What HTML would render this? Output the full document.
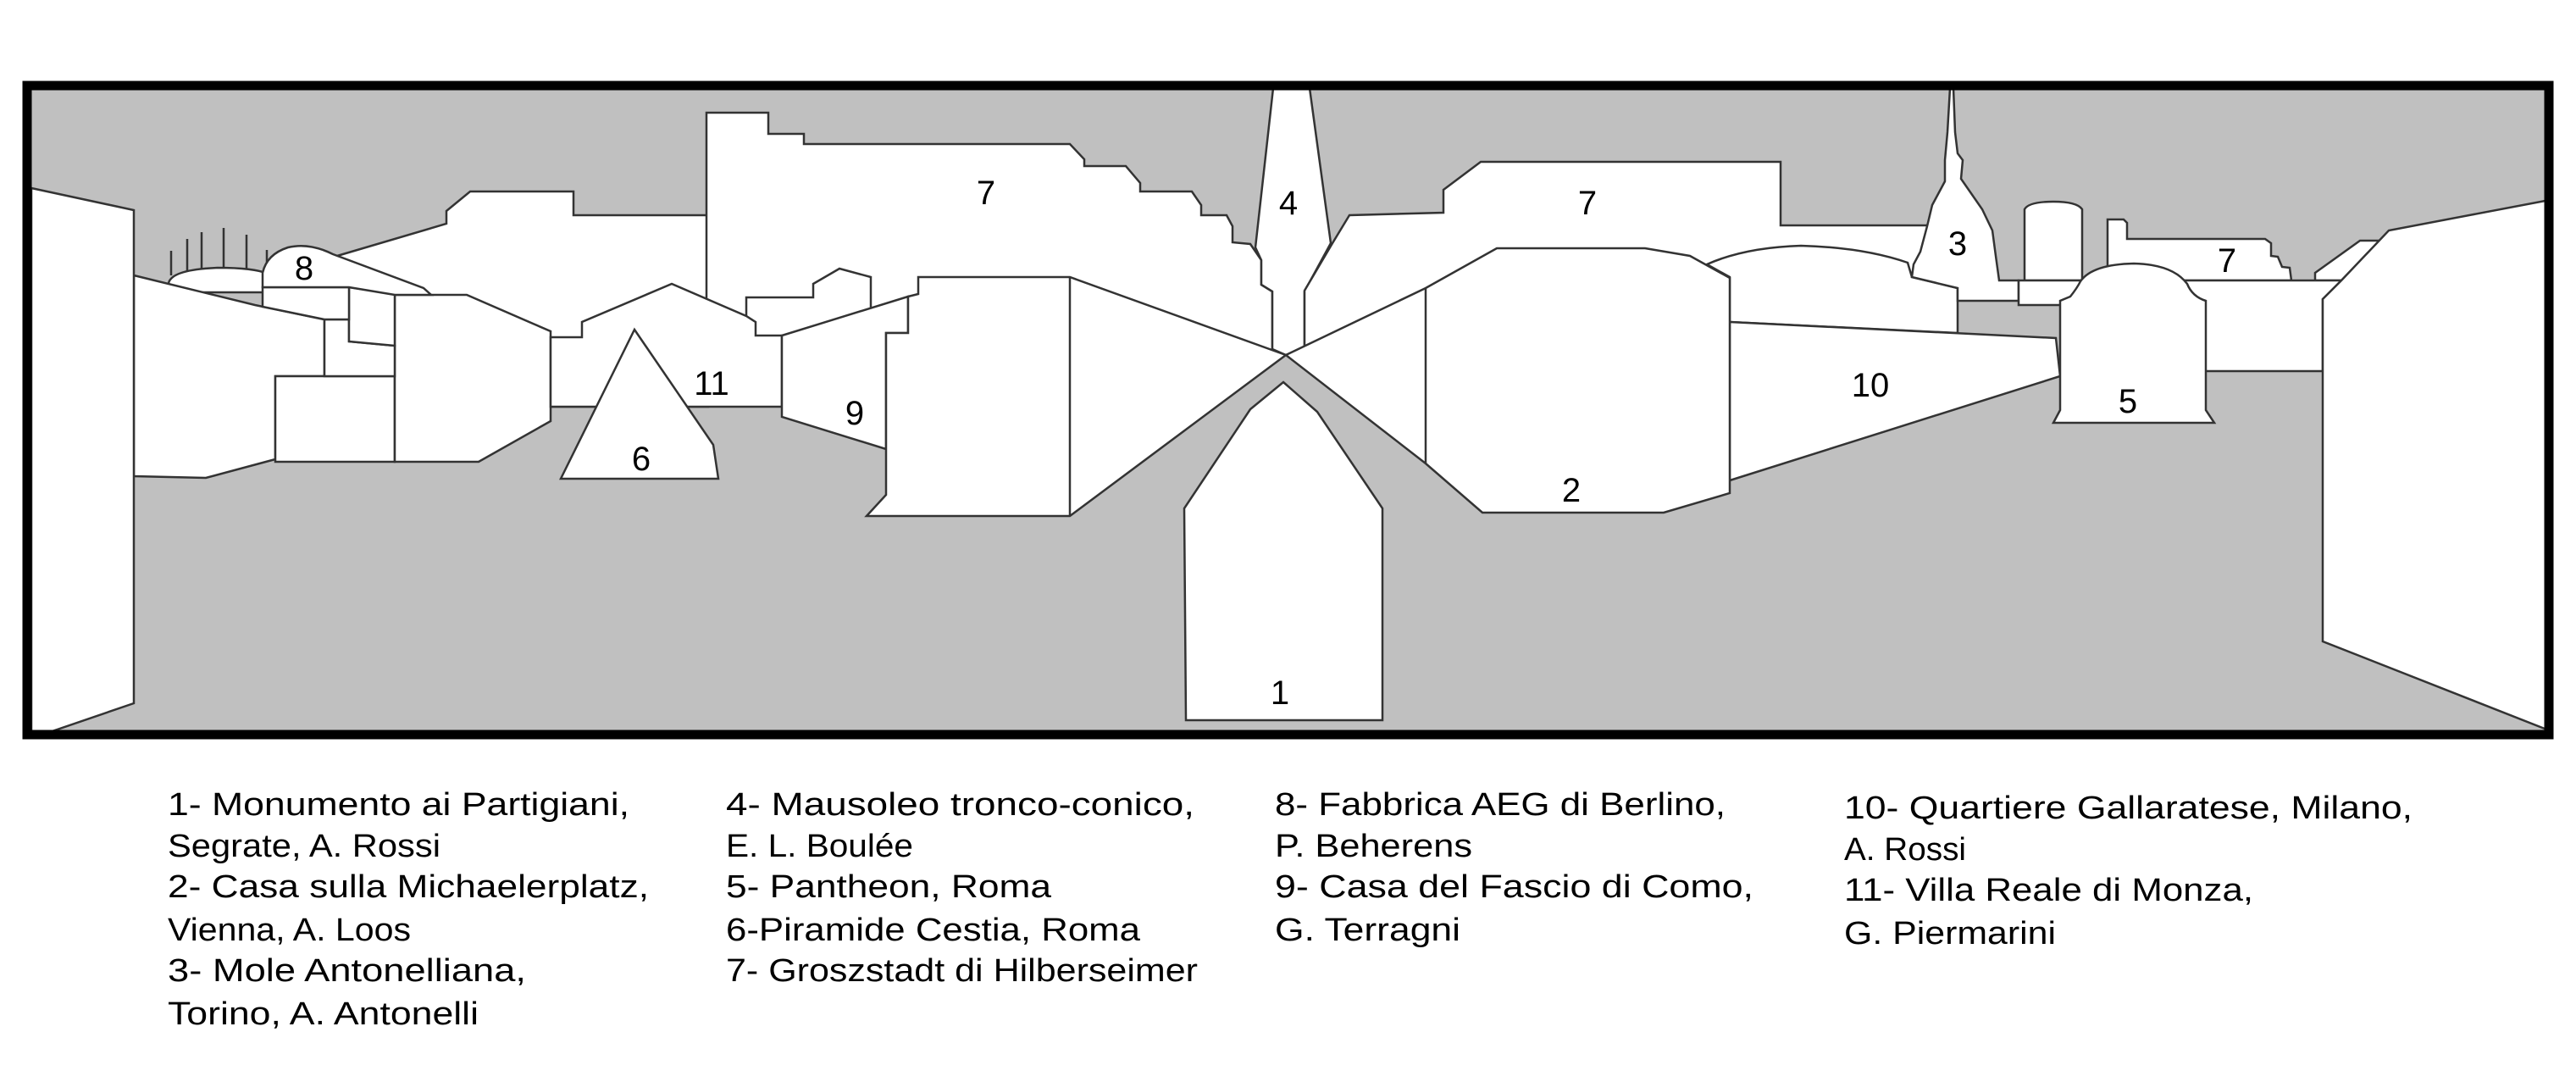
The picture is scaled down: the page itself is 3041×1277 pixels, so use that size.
<!DOCTYPE html>
<html><head><meta charset="utf-8"><style>
html,body{margin:0;padding:0;background:#fff;}
svg{display:block;}
.s{fill:#fff;stroke:#333;stroke-width:2.5;stroke-linejoin:miter;}
.l{fill:none;stroke:#333;stroke-width:2.5;}
.n{font-family:"Liberation Sans",sans-serif;font-size:40px;fill:#000;text-anchor:middle;}
.t{font-family:"Liberation Sans",sans-serif;font-size:38px;fill:#000;}
</style></head><body>
<svg width="3041" height="1277" viewBox="0 0 3041 1277" xmlns="http://www.w3.org/2000/svg">
<rect x="32" y="101" width="2977" height="766" fill="#c0c0c0"/>
<!-- back buildings -->
<polygon class="s" points="398,302 527,264 527,249 555,226 677,226 677,254 836,254 836,480 398,480"/>
<polygon class="s" points="834,133 907,133 907,158 949,158 949,170 1263,170 1280,188 1280,196 1329,196 1346,216 1346,226 1407,226 1418,242 1418,254 1448,254 1455,267 1455,286 1476,288 1489,307 1489,336 1502,344 1502,413 1518,419 1084,420 834,420"/>
<polygon class="s" points="1503,104 1546,104 1571,287 1540,344 1540,412 1518,419 1502,412 1502,344 1489,336 1489,307 1482,292"/>
<polygon class="s" points="1573,287 1593,254 1704,251 1704,224 1748,191 2102,191 2102,266 2280,266 2280,420 1518,419 1540,412 1540,343"/>
<path class="s" d="M2042,327 L2015,312 Q2060,292 2126,290 Q2200,292 2252,310 L2257,327 L2311,340 L2311,393 L2042,380 Z"/>
<polygon class="s" points="2302,104 2306,104 2308,156 2311,181 2317,189 2315,211 2340,247 2352,272 2356,302 2360,331 2383,331 2383,355 2311,355 2311,340 2257,327 2259,312 2267,297 2275,267 2281,242 2296,214 2296,189 2299,156"/>
<path class="s" d="M2390,331 L2390,247 Q2395,238 2424,238 Q2452,238 2458,247 L2458,331 Z"/>
<polygon class="s" points="2488,331 2488,259 2507,259 2511,263 2511,282 2674,282 2681,287 2681,302 2689,303 2694,315 2703,316 2705,331"/>
<polygon class="s" points="2733,331 2733,322 2786,284 2810,284 2764,331"/>
<polygon class="s" points="2383,331 2764,331 2742,353 2742,438 2600,438 2600,360 2383,360"/>
<polygon class="s" points="3010,236 2820,272 2764,331 2742,353 2742,757 3004,860 3010,860"/>
<!-- 10 -->
<polygon class="s" points="2042,380 2427,399 2432,444 2042,567"/>
<!-- 5 -->
<path class="s" d="M2432,484 L2432,355 L2444,350 Q2452,340 2456,332 Q2470,312 2519,311 Q2565,312 2582,335 Q2588,350 2604,355 L2604,484 L2614,499 L2424,499 Z"/>
<!-- 2 -->
<polygon class="s" points="1518,419 1683,340 1767,293 1942,293 1995,302 2042,328 2042,582 1964,605 1750,605 1683,547"/>
<line class="l" x1="1683" y1="340" x2="1683" y2="547"/>
<!-- left cluster -->
<path class="s" d="M199,334 Q203,318 257,316 Q300,316 316,323 L316,345 L199,345 Z"/>
<polyline class="l" points="202,296 202,325"/><polyline class="l" points="221,282 221,320"/><polyline class="l" points="238,274 238,318"/><polyline class="l" points="264,269 264,316"/><polyline class="l" points="291,277 291,317"/><polyline class="l" points="315,295 315,322"/>
<polygon class="s" points="158,325 301,360 383,377 383,444 325,444 325,542 243,564 158,562"/>
<rect class="s" x="325" y="444" width="141" height="101"/>
<polygon class="s" points="466,348 551,348 650,391 650,497 565,545 466,545"/>
<polygon class="s" points="383,377 412,377 412,403 466,408 466,444 383,444"/>
<polygon class="s" points="412,339 466,347 466,408 412,403"/>
<polygon class="s" points="310,339 412,339 412,377 383,377 310,362"/>
<path class="s" d="M310,339 L310,322 Q315,300 340,292 Q365,286 393,300 L500,340 L509,348 L466,348 L412,339 Z"/>
<polygon class="s" points="37,222 158,248 158,830 44,869 37,869"/>
<!-- 11, 9 -->
<polygon class="s" points="881,351 960,351 960,335 991,317 1028,327 1028,420 881,420"/>
<polygon class="s" points="650,398 687,398 687,380 793,335 881,373 892,380 892,396 923,396 923,480 650,480"/>
<polygon class="s" points="923,396 1072,350 1072,393 1046,393 1046,530 923,492"/>
<polygon class="s" points="749,389 842,525 848,565 662,565"/>
<!-- big block left of center -->
<polygon class="s" points="1084,327 1263,327 1518,419 1263,609 1023,609 1046,584 1046,393 1072,393 1072,350 1084,347"/>
<line class="l" x1="1263" y1="327" x2="1263" y2="609"/>
<!-- 1 -->
<polygon class="s" points="1515,451 1555,486 1632,600 1632,850 1400,850 1398,600 1476,483"/>
<rect x="32" y="101" width="2977" height="766" fill="none" stroke="#000" stroke-width="11"/>
<!-- numbers -->
<g class="n">
<text x="1511" y="831">1</text><text x="1855" y="592">2</text><text x="2311" y="301">3</text>
<text x="1521" y="253">4</text><text x="2512" y="487">5</text><text x="757" y="555">6</text>
<text x="1164" y="241">7</text><text x="1874" y="253">7</text><text x="2629" y="321">7</text>
<text x="359" y="330">8</text><text x="1009" y="501">9</text><text x="2208" y="468">10</text><text x="840" y="466">11</text>
</g>
<g class="t">
<text x="198" y="962" textLength="545" lengthAdjust="spacingAndGlyphs">1- Monumento ai Partigiani,</text>
<text x="198" y="1011" textLength="322" lengthAdjust="spacingAndGlyphs">Segrate, A. Rossi</text>
<text x="198" y="1059" textLength="568" lengthAdjust="spacingAndGlyphs">2- Casa sulla Michaelerplatz,</text>
<text x="198" y="1110" textLength="287" lengthAdjust="spacingAndGlyphs">Vienna, A. Loos</text>
<text x="198" y="1158" textLength="423" lengthAdjust="spacingAndGlyphs">3- Mole Antonelliana,</text>
<text x="198" y="1209" textLength="367" lengthAdjust="spacingAndGlyphs">Torino, A. Antonelli</text>
<text x="857" y="962" textLength="553" lengthAdjust="spacingAndGlyphs">4- Mausoleo tronco-conico,</text>
<text x="857" y="1011" textLength="221" lengthAdjust="spacingAndGlyphs">E. L. Boulée</text>
<text x="857" y="1059" textLength="384" lengthAdjust="spacingAndGlyphs">5- Pantheon, Roma</text>
<text x="857" y="1110" textLength="489" lengthAdjust="spacingAndGlyphs">6-Piramide Cestia, Roma</text>
<text x="857" y="1158" textLength="557" lengthAdjust="spacingAndGlyphs">7- Groszstadt di Hilberseimer</text>
<text x="1505" y="962" textLength="532" lengthAdjust="spacingAndGlyphs">8- Fabbrica AEG di Berlino,</text>
<text x="1505" y="1011" textLength="233" lengthAdjust="spacingAndGlyphs">P. Beherens</text>
<text x="1505" y="1059" textLength="565" lengthAdjust="spacingAndGlyphs">9- Casa del Fascio di Como,</text>
<text x="1505" y="1110" textLength="219" lengthAdjust="spacingAndGlyphs">G. Terragni</text>
<text x="2177" y="966" textLength="671" lengthAdjust="spacingAndGlyphs">10- Quartiere Gallaratese, Milano,</text>
<text x="2177" y="1015" textLength="144" lengthAdjust="spacingAndGlyphs">A. Rossi</text>
<text x="2177" y="1063" textLength="483" lengthAdjust="spacingAndGlyphs">11- Villa Reale di Monza,</text>
<text x="2177" y="1114" textLength="250" lengthAdjust="spacingAndGlyphs">G. Piermarini</text>
</g>
</svg>
</body></html>
